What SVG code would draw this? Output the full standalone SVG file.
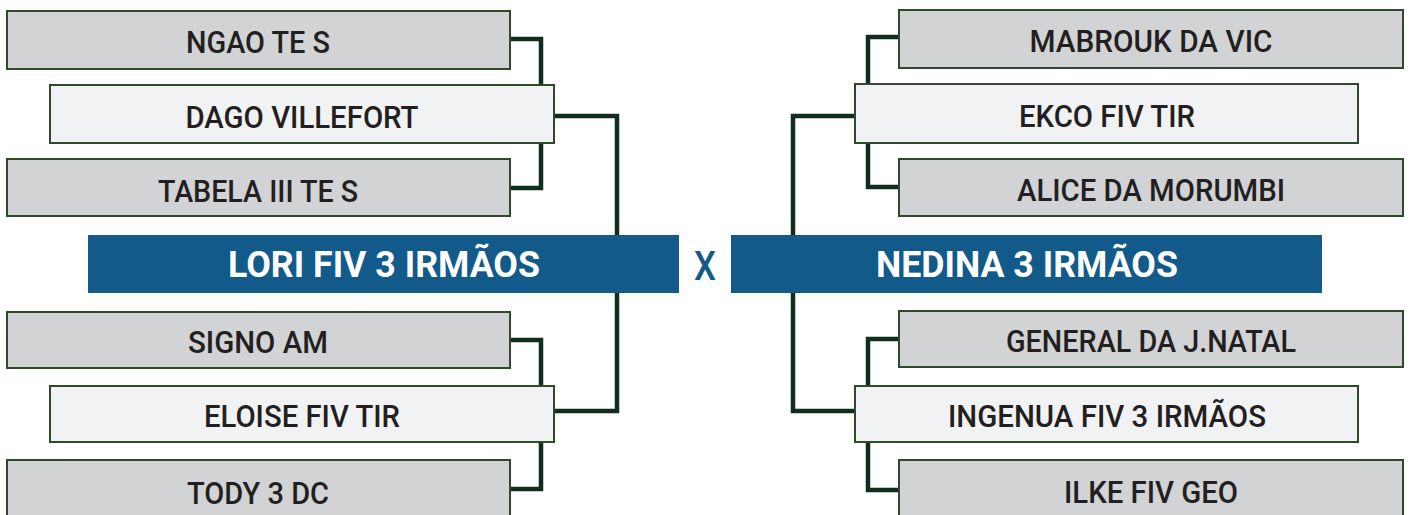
<svg xmlns="http://www.w3.org/2000/svg" width="1411" height="515" viewBox="0 0 1411 515">
<style>
.g{fill:#d1d3d4;stroke:#2f4a2a;stroke-width:2}
.l{fill:#f1f2f3;stroke:#2f4a2a;stroke-width:2}
.b{fill:#115a8a}
.t{font-family:Roboto,"Liberation Sans",sans-serif;font-weight:500;font-size:32px;fill:#231f20;text-anchor:middle}
.w{font-family:Roboto,"Liberation Sans",sans-serif;font-weight:700;font-size:36px;fill:#ffffff;text-anchor:middle}
.x{font-family:Roboto,"Liberation Sans",sans-serif;font-weight:500;font-size:41px;fill:#115a8a;text-anchor:middle}
.c{fill:none;stroke:#0f2e1e;stroke-width:4.5;stroke-linejoin:miter}
</style>
<rect width="1411" height="515" fill="#ffffff"/>
<g id="connectors">
<path class="c" d="M510 39H541V85M510 188H541V143"/>
<path class="c" d="M554 116H617V411H554"/>
<path class="c" d="M510 340H541V386M510 489H541V442"/>
<path class="c" d="M899 37H868V84M899 187H868V143"/>
<path class="c" d="M855 116H793V411H855"/>
<path class="c" d="M899 339H868V386M899 490H868V442"/>
</g>
<g id="n-ngao"><rect class="g" x="7" y="11" width="503" height="58"/><text class="t" x="258" y="53" textLength="144" lengthAdjust="spacingAndGlyphs">NGAO TE S</text></g>
<g id="n-dago"><rect class="l" x="50" y="85" width="504" height="58"/><text class="t" x="302" y="128" textLength="233" lengthAdjust="spacingAndGlyphs">DAGO VILLEFORT</text></g>
<g id="n-tabela"><rect class="g" x="7" y="159" width="503" height="57"/><text class="t" x="258" y="202" textLength="200" lengthAdjust="spacingAndGlyphs">TABELA III TE S</text></g>
<g id="n-lori"><rect class="b" x="88" y="235" width="591" height="58"/><text class="w" x="384" y="277" textLength="312" lengthAdjust="spacingAndGlyphs">LORI FIV 3 IRMÃOS</text></g>
<g id="n-x"><text class="x" x="705" y="280" textLength="22" lengthAdjust="spacingAndGlyphs">X</text></g>
<g id="n-nedina"><rect class="b" x="731" y="235" width="591" height="58"/><text class="w" x="1027" y="277" textLength="302" lengthAdjust="spacingAndGlyphs">NEDINA 3 IRMÃOS</text></g>
<g id="n-signo"><rect class="g" x="7" y="312" width="503" height="56"/><text class="t" x="258" y="353" textLength="140" lengthAdjust="spacingAndGlyphs">SIGNO AM</text></g>
<g id="n-eloise"><rect class="l" x="50" y="386" width="504" height="56"/><text class="t" x="302" y="427" textLength="196" lengthAdjust="spacingAndGlyphs">ELOISE FIV TIR</text></g>
<g id="n-tody"><rect class="g" x="7" y="460" width="503" height="60"/><text class="t" x="258" y="504" textLength="142" lengthAdjust="spacingAndGlyphs">TODY 3 DC</text></g>
<g id="n-mabrouk"><rect class="g" x="899" y="10" width="504" height="58"/><text class="t" x="1151" y="52" textLength="243" lengthAdjust="spacingAndGlyphs">MABROUK DA VIC</text></g>
<g id="n-ekco"><rect class="l" x="855" y="84" width="503" height="59"/><text class="t" x="1107" y="127" textLength="176" lengthAdjust="spacingAndGlyphs">EKCO FIV TIR</text></g>
<g id="n-alice"><rect class="g" x="899" y="159" width="504" height="57"/><text class="t" x="1151" y="201" textLength="268" lengthAdjust="spacingAndGlyphs">ALICE DA MORUMBI</text></g>
<g id="n-general"><rect class="g" x="899" y="311" width="504" height="56"/><text class="t" x="1151" y="352" textLength="290" lengthAdjust="spacingAndGlyphs">GENERAL DA J.NATAL</text></g>
<g id="n-ingenua"><rect class="l" x="855" y="386" width="503" height="56"/><text class="t" x="1107" y="427" textLength="318" lengthAdjust="spacingAndGlyphs">INGENUA FIV 3 IRMÃOS</text></g>
<g id="n-ilke"><rect class="g" x="899" y="460" width="504" height="60"/><text class="t" x="1151" y="503" textLength="174" lengthAdjust="spacingAndGlyphs">ILKE FIV GEO</text></g>
</svg>
